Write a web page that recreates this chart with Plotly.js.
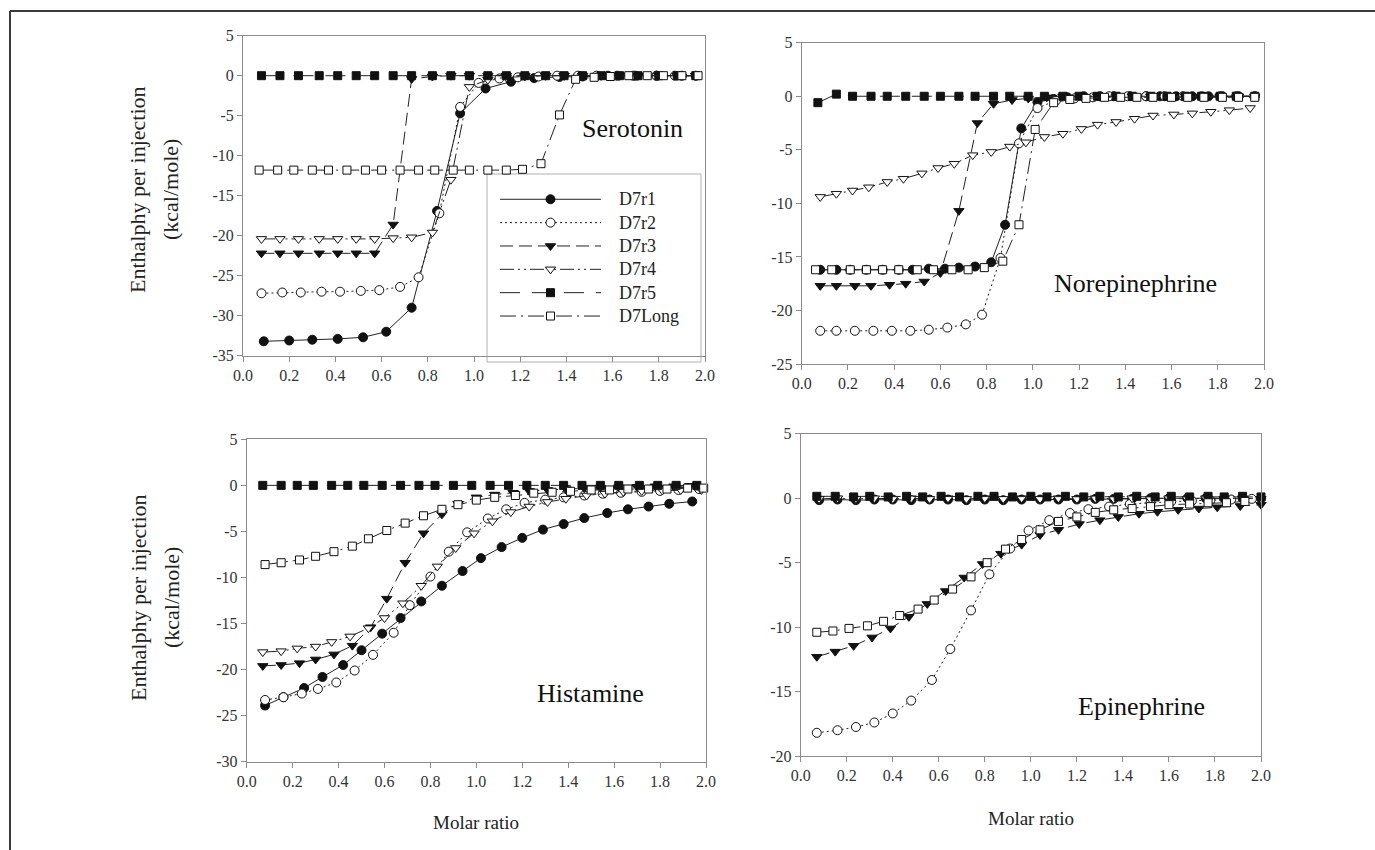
<!DOCTYPE html>
<html><head><meta charset="utf-8">
<script src="https://cdn.plot.ly/plotly-3.0.1.min.js"></script>
<style>html,body{margin:0;padding:0;background:#fff}#chart{width:1375px;height:850px}</style>
</head><body><div id="chart"></div>
<script>
// ---------- labels ----------
const seriesNames = ['D7r1', 'D7r2', 'D7r3', 'D7r4', 'D7r5', 'D7Long'];
const panelNames = ['Serotonin', 'Norepinephrine', 'Histamine', 'Epinephrine'];
const xTickValues = [0, 0.2, 0.4, 0.6, 0.8, 1.0, 1.2, 1.4, 1.6, 1.8, 2.0];
const xTickLabels = ['0.0', '0.2', '0.4', '0.6', '0.8', '1.0', '1.2', '1.4', '1.6', '1.8', '2.0'];
const serotoninYTicks = [5, 0, -5, -10, -15, -20, -25, -30, -35];
const norepinephrineYTicks = [5, 0, -5, -10, -15, -20, -25];
const histamineYTicks = [5, 0, -5, -10, -15, -20, -25, -30];
const epinephrineYTicks = [5, 0, -5, -10, -15, -20];
const yTitleLine1 = 'Enthalphy per injection';
const yTitleLine2 = '(kcal/mole)';
const xTitle = 'Molar ratio';

// ---------- Serotonin ----------
const serD7r1X = [0.09, 0.20, 0.30, 0.41, 0.52, 0.62, 0.73, 0.84, 0.94, 1.05, 1.16, 1.26, 1.37, 1.47, 1.58, 1.69, 1.79, 1.90];
const serD7r1Y = [-33.2, -33.1, -33.0, -32.9, -32.7, -32.0, -29.0, -16.9, -4.7, -1.6, -0.75, -0.3, -0.15, -0.1, 0, 0, 0, 0];
const serD7r2X = [0.08, 0.17, 0.25, 0.34, 0.42, 0.51, 0.59, 0.68, 0.76, 0.85, 0.94, 1.02, 1.11, 1.19, 1.28, 1.36, 1.45, 1.53, 1.62, 1.70, 1.79, 1.87, 1.96];
const serD7r2Y = [-27.2, -27.1, -27.1, -27.0, -27.0, -26.9, -26.8, -26.4, -25.2, -17.2, -3.9, -0.9, -0.35, -0.2, -0.1, 0, 0, 0, 0, 0, 0, 0, 0];
const serD7r3X = [0.08, 0.16, 0.24, 0.33, 0.41, 0.49, 0.57, 0.65, 0.73, 0.82, 0.90, 0.98, 1.06, 1.14, 1.22, 1.31, 1.39, 1.47, 1.55, 1.63, 1.71, 1.80, 1.88, 1.96];
const serD7r3Y = [-22.2, -22.2, -22.2, -22.2, -22.2, -22.2, -22.2, -18.6, -0.4, -0.1, 0, 0, 0, 0, 0, 0, 0, 0, 0, 0, 0, 0, 0, 0];
const serD7r4X = [0.08, 0.16, 0.24, 0.33, 0.41, 0.49, 0.57, 0.65, 0.73, 0.82, 0.90, 0.98, 1.06, 1.14, 1.22, 1.31, 1.39, 1.47, 1.55, 1.63, 1.71, 1.80, 1.88, 1.96];
const serD7r4Y = [-20.4, -20.4, -20.4, -20.4, -20.4, -20.4, -20.4, -20.3, -20.2, -19.6, -13.0, -1.4, -0.5, -0.2, -0.1, 0, 0, 0, 0, 0, 0, 0, 0, 0];
const serD7r5X = [0.08, 0.16, 0.24, 0.33, 0.41, 0.49, 0.57, 0.65, 0.73, 0.82, 0.90, 0.98, 1.06, 1.14, 1.22, 1.31, 1.39, 1.47, 1.55, 1.63, 1.71, 1.80, 1.88, 1.96];
const serD7r5Y = [0, 0, 0, 0, 0, 0, 0, 0, 0, 0, 0, 0, 0, 0, 0, 0, 0, 0, 0, 0, 0, 0, 0, 0];
const serD7LongX = [0.07, 0.15, 0.22, 0.30, 0.37, 0.45, 0.53, 0.60, 0.68, 0.76, 0.83, 0.91, 0.98, 1.06, 1.14, 1.21, 1.29, 1.37, 1.44, 1.52, 1.59, 1.67, 1.75, 1.82, 1.90, 1.97];
const serD7LongY = [-11.8, -11.8, -11.8, -11.8, -11.8, -11.8, -11.8, -11.8, -11.8, -11.8, -11.8, -11.8, -11.8, -11.8, -11.8, -11.7, -11.0, -4.9, -0.45, -0.2, -0.1, 0, 0, 0, 0, 0];

// ---------- Norepinephrine ----------
const norD7r1X = [0.08, 0.15, 0.21, 0.28, 0.35, 0.42, 0.48, 0.55, 0.62, 0.68, 0.75, 0.82, 0.88, 0.95, 1.02, 1.09, 1.15, 1.22, 1.29, 1.35, 1.42, 1.49, 1.55, 1.62, 1.69, 1.76, 1.82, 1.89, 1.96];
const norD7r1Y = [-16.2, -16.2, -16.2, -16.2, -16.2, -16.2, -16.2, -16.1, -16.1, -16.0, -15.9, -15.5, -12.0, -3.0, -0.55, -0.25, -0.1, 0, 0, 0, 0, 0, 0, 0, 0, 0, 0, 0, 0];
const norD7r2X = [0.08, 0.15, 0.23, 0.31, 0.39, 0.47, 0.55, 0.63, 0.71, 0.78, 0.86, 0.94, 1.02, 1.10, 1.18, 1.26, 1.33, 1.41, 1.49, 1.57, 1.65, 1.73, 1.81, 1.88, 1.96];
const norD7r2Y = [-21.9, -21.9, -21.9, -21.9, -21.9, -21.9, -21.8, -21.6, -21.3, -20.4, -15.1, -4.4, -1.1, -0.4, -0.2, -0.1, 0, 0, 0, 0, 0, 0, 0, 0, 0];
const norD7r3X = [0.08, 0.15, 0.23, 0.30, 0.38, 0.45, 0.53, 0.60, 0.68, 0.76, 0.83, 0.91, 0.98, 1.06, 1.13, 1.21, 1.28, 1.36, 1.43, 1.51, 1.59, 1.66, 1.74, 1.81, 1.89, 1.96];
const norD7r3Y = [-17.7, -17.7, -17.7, -17.7, -17.6, -17.5, -17.3, -16.5, -10.7, -2.5, -0.7, -0.35, -0.2, -0.1, 0, 0, 0, 0, 0, 0, 0, 0, 0, 0, 0, 0];
const norD7r4X = [0.08, 0.15, 0.22, 0.29, 0.37, 0.44, 0.52, 0.59, 0.66, 0.74, 0.82, 0.90, 0.97, 1.05, 1.13, 1.21, 1.28, 1.36, 1.44, 1.52, 1.61, 1.69, 1.77, 1.85, 1.94];
const norD7r4Y = [-9.4, -9.1, -8.8, -8.5, -8.0, -7.7, -7.2, -6.7, -6.3, -5.5, -5.2, -4.7, -4.3, -3.8, -3.5, -3.05, -2.65, -2.4, -2.1, -1.8, -1.7, -1.6, -1.45, -1.3, -1.1];
const norD7r5X = [0.07, 0.15, 0.22, 0.30, 0.37, 0.45, 0.53, 0.60, 0.68, 0.75, 0.83, 0.90, 0.98, 1.05, 1.13, 1.20, 1.28, 1.36, 1.43, 1.51, 1.58, 1.66, 1.73, 1.81, 1.88, 1.96];
const norD7r5Y = [-0.6, 0.2, 0, 0, 0, 0, 0, 0, 0, 0, 0, 0, 0, 0, 0, 0, 0, 0, 0, 0, 0, 0, 0, 0, 0, 0];
const norD7LongX = [0.06, 0.13, 0.21, 0.28, 0.35, 0.42, 0.50, 0.57, 0.65, 0.72, 0.79, 0.87, 0.94, 1.01, 1.09, 1.16, 1.23, 1.31, 1.38, 1.45, 1.52, 1.60, 1.67, 1.74, 1.82, 1.89, 1.96];
const norD7LongY = [-16.2, -16.2, -16.2, -16.2, -16.2, -16.2, -16.2, -16.2, -16.2, -16.2, -16.0, -15.4, -12.0, -3.1, -0.6, -0.3, -0.2, -0.1, -0.1, -0.1, -0.1, -0.1, -0.1, -0.1, -0.1, -0.1, -0.1];

// ---------- Histamine ----------
const hisD7r1X = [0.08, 0.16, 0.25, 0.33, 0.42, 0.50, 0.59, 0.67, 0.76, 0.85, 0.94, 1.02, 1.11, 1.20, 1.29, 1.38, 1.47, 1.57, 1.66, 1.75, 1.84, 1.94];
const hisD7r1Y = [-23.9, -23.0, -22.0, -20.8, -19.5, -17.9, -16.1, -14.4, -12.6, -10.9, -9.3, -7.9, -6.7, -5.7, -4.8, -4.2, -3.55, -3.0, -2.6, -2.3, -2.0, -1.75];
const hisD7r2X = [0.08, 0.16, 0.24, 0.31, 0.39, 0.47, 0.55, 0.64, 0.71, 0.80, 0.88, 0.96, 1.05, 1.13, 1.21, 1.30, 1.38, 1.47, 1.55, 1.63, 1.72, 1.80, 1.88, 1.97];
const hisD7r2Y = [-23.3, -23.0, -22.6, -22.1, -21.4, -20.1, -18.4, -16.0, -13.0, -9.9, -7.2, -5.1, -3.6, -2.6, -1.9, -1.55, -1.3, -1.1, -0.9, -0.8, -0.7, -0.6, -0.5, -0.4];
const hisD7r3X = [0.07, 0.15, 0.23, 0.30, 0.38, 0.46, 0.54, 0.61, 0.69, 0.77, 0.85, 0.92, 1.00, 1.08, 1.16, 1.23, 1.31, 1.39, 1.47, 1.54, 1.62, 1.70, 1.78, 1.86, 1.93];
const hisD7r3Y = [-19.6, -19.5, -19.3, -18.9, -18.35, -17.4, -15.4, -12.3, -8.4, -5.2, -3.15, -2.0, -1.3, -1.0, -0.8, -0.6, -0.5, -0.4, -0.3, -0.25, -0.2, -0.15, -0.1, -0.1, -0.05];
const hisD7r4X = [0.07, 0.15, 0.22, 0.30, 0.37, 0.45, 0.53, 0.60, 0.68, 0.76, 0.83, 0.91, 0.99, 1.07, 1.15, 1.23, 1.31, 1.39, 1.48, 1.56, 1.64, 1.72, 1.81, 1.89, 1.98];
const hisD7r4Y = [-18.1, -18.0, -17.7, -17.5, -17.0, -16.4, -15.5, -14.4, -12.8, -10.9, -8.8, -6.8, -5.2, -3.9, -2.9, -2.3, -1.8, -1.45, -1.1, -0.9, -0.7, -0.6, -0.55, -0.5, -0.5];
const hisD7r5X = [0.07, 0.15, 0.22, 0.29, 0.37, 0.44, 0.51, 0.59, 0.67, 0.75, 0.82, 0.90, 0.98, 1.06, 1.14, 1.22, 1.30, 1.38, 1.46, 1.54, 1.62, 1.71, 1.79, 1.87, 1.96];
const hisD7r5Y = [0, 0, 0, 0, 0, 0, 0, 0, 0, 0, 0, 0, 0, 0, 0, 0, 0, 0, 0, 0, 0, 0, 0, 0, 0];
const hisD7LongX = [0.08, 0.15, 0.23, 0.30, 0.38, 0.46, 0.53, 0.61, 0.69, 0.77, 0.85, 0.92, 1.00, 1.08, 1.17, 1.25, 1.33, 1.41, 1.50, 1.58, 1.66, 1.75, 1.83, 1.92, 1.99];
const hisD7LongY = [-8.6, -8.4, -8.1, -7.7, -7.2, -6.6, -5.8, -4.9, -4.1, -3.3, -2.6, -2.1, -1.6, -1.3, -1.1, -0.85, -0.75, -0.65, -0.5, -0.5, -0.4, -0.4, -0.4, -0.3, -0.3];

// ---------- Epinephrine ----------
const epiD7r1X = [0.08, 0.16, 0.24, 0.32, 0.40, 0.48, 0.56, 0.64, 0.72, 0.80, 0.88, 0.96, 1.04, 1.12, 1.20, 1.28, 1.36, 1.44, 1.52, 1.60, 1.68, 1.76, 1.84, 1.92, 2.00];
const epiD7r1Y = [-0.15, -0.1, -0.15, -0.1, -0.1, -0.15, -0.1, -0.1, -0.15, -0.1, -0.15, -0.1, -0.1, -0.1, -0.1, -0.05, -0.05, -0.05, 0, 0, 0, 0, 0, 0, 0];
const epiD7r2X = [0.07, 0.16, 0.24, 0.32, 0.40, 0.48, 0.57, 0.65, 0.74, 0.82, 0.91, 0.99, 1.08, 1.17, 1.25, 1.34, 1.43, 1.52, 1.61, 1.70, 1.78, 1.87, 1.96];
const epiD7r2Y = [-18.2, -18.0, -17.75, -17.4, -16.7, -15.7, -14.1, -11.7, -8.7, -5.9, -3.9, -2.5, -1.7, -1.15, -0.85, -0.65, -0.45, -0.35, -0.25, -0.2, -0.15, -0.1, -0.05];
const epiD7r3X = [0.07, 0.15, 0.23, 0.31, 0.39, 0.47, 0.55, 0.63, 0.71, 0.79, 0.87, 0.96, 1.04, 1.12, 1.21, 1.30, 1.38, 1.47, 1.55, 1.64, 1.73, 1.81, 1.91, 2.00];
const epiD7r3Y = [-12.3, -11.9, -11.45, -10.8, -10.1, -9.2, -8.2, -7.2, -6.15, -5.1, -4.3, -3.6, -2.85, -2.45, -2.0, -1.7, -1.45, -1.2, -1.05, -0.9, -0.8, -0.7, -0.6, -0.5];
const epiD7r4X = [0.08, 0.16, 0.24, 0.32, 0.40, 0.48, 0.56, 0.64, 0.72, 0.80, 0.88, 0.96, 1.04, 1.12, 1.20, 1.28, 1.36, 1.44, 1.52, 1.60, 1.68, 1.76, 1.84, 1.92, 2.00];
const epiD7r4Y = [-0.05, 0, -0.05, 0, -0.05, 0, -0.05, 0, -0.05, 0, -0.05, 0, -0.05, 0, -0.05, 0, -0.05, 0, -0.05, 0, -0.05, 0, -0.05, 0, -0.05];
const epiD7r5X = [0.07, 0.15, 0.23, 0.30, 0.38, 0.46, 0.53, 0.61, 0.69, 0.77, 0.84, 0.92, 1.00, 1.07, 1.15, 1.23, 1.30, 1.38, 1.46, 1.54, 1.61, 1.69, 1.77, 1.84, 1.92, 2.00];
const epiD7r5Y = [0.15, 0.15, 0.1, 0.15, 0.1, 0.15, 0.1, 0.15, 0.1, 0.15, 0.15, 0.1, 0.15, 0.1, 0.15, 0.1, 0.15, 0.1, 0.15, 0.1, 0.15, 0.1, 0.15, 0.1, 0.15, 0.1];
const epiD7LongX = [0.07, 0.14, 0.21, 0.29, 0.36, 0.43, 0.51, 0.58, 0.66, 0.74, 0.81, 0.89, 0.96, 1.04, 1.12, 1.20, 1.28, 1.36, 1.44, 1.52, 1.60, 1.69, 1.77, 1.85, 1.93];
const epiD7LongY = [-10.4, -10.3, -10.1, -9.9, -9.55, -9.1, -8.6, -7.9, -7.05, -6.1, -5.0, -3.95, -3.2, -2.45, -1.8, -1.45, -1.1, -0.9, -0.8, -0.65, -0.5, -0.45, -0.35, -0.35, -0.25];

// ---------- styles ----------
const LINE = '#222';
const styles = {
  D7r1:   {dash: 'solid',                    symbol: 'circle',        fill: '#111', size: 9},
  D7r2:   {dash: '2px,3px',                  symbol: 'circle',        fill: '#fff', size: 9},
  D7r3:   {dash: '13px,6px',                 symbol: 'triangle-down', fill: '#111', size: 9},
  D7r4:   {dash: '14px,4px,2px,4px,2px,4px', symbol: 'triangle-down', fill: '#fff', size: 9},
  D7r5:   {dash: '20px,12px',                symbol: 'square',        fill: '#111', size: 8},
  D7Long: {dash: '16px,5px,2px,5px',         symbol: 'square',        fill: '#fff', size: 8}
};

const panels = [
  {xa: 'x',  ya: 'y',  data: [[serD7r1X, serD7r1Y], [serD7r2X, serD7r2Y], [serD7r3X, serD7r3Y], [serD7r4X, serD7r4Y], [serD7r5X, serD7r5Y], [serD7LongX, serD7LongY]]},
  {xa: 'x2', ya: 'y2', data: [[norD7r1X, norD7r1Y], [norD7r2X, norD7r2Y], [norD7r3X, norD7r3Y], [norD7r4X, norD7r4Y], [norD7r5X, norD7r5Y], [norD7LongX, norD7LongY]]},
  {xa: 'x3', ya: 'y3', data: [[hisD7r1X, hisD7r1Y], [hisD7r2X, hisD7r2Y], [hisD7r3X, hisD7r3Y], [hisD7r4X, hisD7r4Y], [hisD7r5X, hisD7r5Y], [hisD7LongX, hisD7LongY]]},
  {xa: 'x4', ya: 'y4', data: [[epiD7r1X, epiD7r1Y], [epiD7r2X, epiD7r2Y], [epiD7r3X, epiD7r3Y], [epiD7r4X, epiD7r4Y], [epiD7r5X, epiD7r5Y], [epiD7LongX, epiD7LongY]]}
];

const traces = [];
panels.forEach(p => {
  p.data.forEach((d, i) => {
    const s = styles[seriesNames[i]];
    traces.push({
      type: 'scatter', mode: 'lines+markers', name: seriesNames[i],
      x: d[0], y: d[1], xaxis: p.xa, yaxis: p.ya, showlegend: false, cliponaxis: false,
      line: {color: LINE, width: 1, dash: s.dash},
      marker: {symbol: s.symbol, size: s.size, color: s.fill, line: {color: '#111', width: 1}}
    });
  });
});

// custom legend samples (axes x5/y5)
seriesNames.forEach((n, i) => {
  const s = styles[n];
  traces.push({type: 'scatter', mode: 'lines', x: [0, 1], y: [i, i], xaxis: 'x5', yaxis: 'y5',
    showlegend: false, hoverinfo: 'skip', line: {color: LINE, width: 1, dash: s.dash}});
  traces.push({type: 'scatter', mode: 'markers', x: [0.5], y: [i], xaxis: 'x5', yaxis: 'y5',
    showlegend: false, hoverinfo: 'skip',
    marker: {symbol: s.symbol, size: s.size, color: s.fill, line: {color: '#111', width: 1}}});
});

const W = 1375, H = 850;
const px = v => v / W, py = v => 1 - v / H;
const serif = 'Liberation Serif';
const tickFont = {family: serif, size: 16, color: '#333'};
function xAxis(dom, anchor) {
  return {domain: dom, anchor: anchor, range: [0, 2], tickvals: xTickValues, ticktext: xTickLabels,
    showline: true, mirror: true, linecolor: '#8c8c8c', linewidth: 1, ticks: 'outside', ticklen: 5,
    tickcolor: '#8c8c8c', showgrid: false, zeroline: false, tickfont: tickFont, fixedrange: true};
}
function yAxis(dom, anchor, ticks) {
  return {domain: dom, anchor: anchor, range: [ticks[ticks.length - 1], ticks[0]], tickvals: ticks,
    ticktext: ticks.map(String), showline: true, mirror: true, linecolor: '#8c8c8c', linewidth: 1,
    ticks: 'outside', ticklen: 5, tickcolor: '#8c8c8c', showgrid: false, zeroline: false,
    tickfont: tickFont, fixedrange: true};
}

const annotations = [];
// panel labels
[[632, 128], [1135, 283], [590, 693], [1141, 706]].forEach((c, i) => {
  annotations.push({xref: 'paper', yref: 'paper', x: px(c[0]), y: py(c[1]), text: panelNames[i],
    showarrow: false, xanchor: 'center', yanchor: 'middle', font: {family: serif, size: 26, color: '#111'}});
});
// y titles
[[138, 171, 190], [138, 171, 598]].forEach(t => {
  annotations.push({xref: 'paper', yref: 'paper', x: px(t[0]), y: py(t[2]), text: yTitleLine1, textangle: -90,
    showarrow: false, xanchor: 'center', yanchor: 'middle', font: {family: serif, size: 22, color: '#222'}});
  annotations.push({xref: 'paper', yref: 'paper', x: px(t[1]), y: py(t[2]), text: yTitleLine2, textangle: -90,
    showarrow: false, xanchor: 'center', yanchor: 'middle', font: {family: serif, size: 22, color: '#222'}});
});
// x titles
[[476, 822], [1031, 818]].forEach(t => {
  annotations.push({xref: 'paper', yref: 'paper', x: px(t[0]), y: py(t[1]), text: xTitle,
    showarrow: false, xanchor: 'center', yanchor: 'middle', font: {family: serif, size: 19, color: '#222'}});
});
// legend texts (paper coordinates, aligned with legend rows)
seriesNames.forEach((n, i) => {
  annotations.push({xref: 'paper', yref: 'paper', x: px(617), y: py(199.3 + i * 23.35), text: n, showarrow: false,
    xanchor: 'left', yanchor: 'middle', font: {family: serif, size: 18, color: '#222'}});
});

const layout = {
  width: W, height: H, margin: {l: 0, r: 0, t: 0, b: 0}, paper_bgcolor: '#fff', plot_bgcolor: 'rgba(0,0,0,0)',
  showlegend: false,
  xaxis:  xAxis([px(243), px(705)], 'y'),
  yaxis:  yAxis([py(355.7), py(35.7)], 'x', serotoninYTicks),
  xaxis2: xAxis([px(801.7), px(1264)], 'y2'),
  yaxis2: yAxis([py(364), py(42.7)], 'x2', norepinephrineYTicks),
  xaxis3: xAxis([px(246.7), px(706)], 'y3'),
  yaxis3: yAxis([py(761.7), py(439.3)], 'x3', histamineYTicks),
  xaxis4: xAxis([px(800.7), px(1261)], 'y4'),
  yaxis4: yAxis([py(756), py(433.8)], 'x4', epinephrineYTicks),
  xaxis5: {domain: [px(500), px(601)], anchor: 'y5', range: [0, 1], visible: false, fixedrange: true},
  yaxis5: {domain: [py(327.7), py(187.6)], anchor: 'x5', range: [5.5, -0.5], visible: false, fixedrange: true},
  annotations: annotations,
  shapes: [
    {type: 'line', xref: 'paper', yref: 'paper', x0: px(10), x1: 1, y0: py(11), y1: py(11), line: {color: '#3a3a3a', width: 2}},
    {type: 'line', xref: 'paper', yref: 'paper', x0: px(10), x1: px(10), y0: py(11), y1: 0, line: {color: '#3a3a3a', width: 2}},
    {type: 'rect', xref: 'paper', yref: 'paper', x0: px(487), x1: px(701), y0: py(362), y1: py(174), layer: 'below',
      line: {color: '#b0b0b0', width: 1}, fillcolor: 'rgba(0,0,0,0)'}
  ]
};

Plotly.newPlot('chart', traces, layout, {displayModeBar: false, staticPlot: true});
</script>
</body></html>
